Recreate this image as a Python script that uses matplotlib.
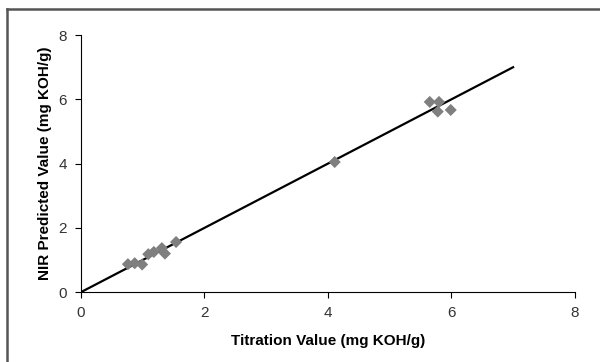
import matplotlib
matplotlib.use("Agg")
import matplotlib.pyplot as plt
from matplotlib.lines import Line2D

plt.rcParams['font.family'] = ['Liberation Sans', 'DejaVu Sans']

# Titration vs. NIR predicted acid value
titration = [0.76, 0.87, 0.99, 1.09, 1.18, 1.31, 1.36, 1.54, 4.11, 5.65, 5.80, 5.78, 5.99]
nir_pred = [0.87, 0.90, 0.86, 1.18, 1.25, 1.37, 1.20, 1.56, 4.05, 5.92, 5.92, 5.62, 5.67]
fit_x = [0, 7]
fit_y = [0, 7]
ticks = [0, 2, 4, 6, 8]

fig = plt.figure(figsize=(6.0, 3.62), dpi=100)
ax = fig.add_axes([0.135, 0.193, 0.823, 0.710])

ax.plot(fit_x, fit_y, color='black', lw=1.6, zorder=2)
ax.scatter(titration, nir_pred, marker='D', s=38, color='#7f7f7f', edgecolor='none', zorder=3)

ax.set_xlim(0, 8)
ax.set_ylim(0, 8)
ax.set_xticks(ticks)
ax.set_yticks(ticks)
for s in ['top', 'right']:
    ax.spines[s].set_visible(False)
for s in ['left', 'bottom']:
    ax.spines[s].set_color('#000000')
    ax.spines[s].set_linewidth(0.8)
ax.tick_params(direction='out', length=4, width=0.8, labelsize=11, colors='black', pad=6)
for lbl in ax.get_xticklabels() + ax.get_yticklabels():
    lbl.set_color('#333333')

ax.set_xlabel('Titration Value (mg KOH/g)', fontsize=11, fontweight='bold', labelpad=10)
ax.set_ylabel('NIR Predicted Value (mg KOH/g)', fontsize=11, fontweight='bold', labelpad=5)

# outer chart-area frame
fig.add_artist(Line2D([0.0115, 1.0], [0.975, 0.975], transform=fig.transFigure, color='#555555', lw=1.8))
fig.add_artist(Line2D([0.0115, 0.0115], [0.0, 0.975], transform=fig.transFigure, color='#555555', lw=1.8))

fig.savefig('out.png', dpi=100)
